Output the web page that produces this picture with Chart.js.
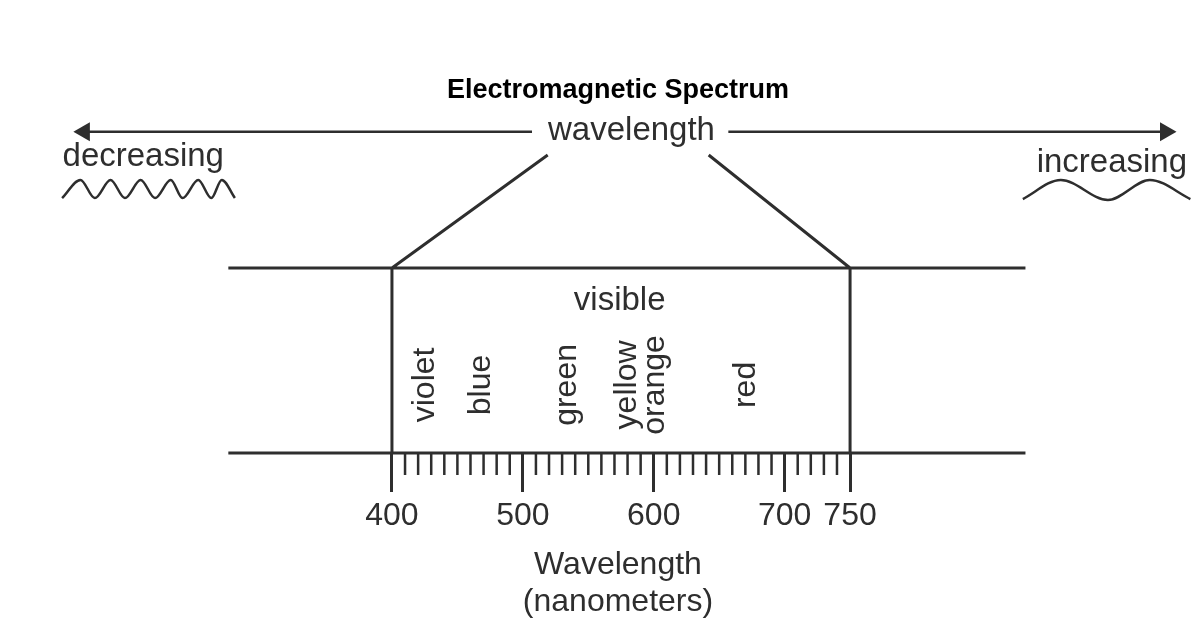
<!DOCTYPE html>
<html>
<head>
<meta charset="utf-8">
<script src="https://cdn.jsdelivr.net/npm/chart.js@4.4.1/dist/chart.umd.min.js"></script>
<style>
  html, body { margin: 0; padding: 0; background: #fff; }
  #wrap { width: 1204px; height: 630px; }
</style>
</head>
<body>
<div id="wrap"><canvas id="spectrum"></canvas></div>
<script>
// wavelength values (nm)
const visibleRange = [400, 750];
const bandRange = [275, 884];
const majorTicks = [400, 500, 600, 700, 750];
const minorTicks = [410, 420, 430, 440, 450, 460, 470, 480, 490,
                    510, 520, 530, 540, 550, 560, 570, 580, 590,
                    610, 620, 630, 640, 650, 660, 670, 680, 690,
                    710, 720, 730, 740];
const colorNames = ['violet', 'blue', 'green', 'yellow', 'orange', 'red'];
const colorCenters = [425, 468, 534, 580, 601, 671];

// top part of the diagram (same x units)
const funnelTop = [519, 642];
const arrowLeft = [165, 507];
const arrowRight = [657, 991];
const shortWaveX = [148, 162, 173, 185, 196, 208, 219, 231, 240, 252, 262, 270, 280];
const shortWaveY = [13.78, 14.76, 13.78, 14.76, 13.78, 14.76, 13.78, 14.76, 13.78, 14.76, 13.78, 14.76, 13.78];
const longWaveX = [882, 911, 947, 979, 1010];
const longWaveY = [13.73, 14.76, 13.68, 14.76, 13.73];

const textLabels = ['wavelength', 'decreasing', 'increasing', 'visible'];
const textX = [583, 210, 950, 574];

// vertical rows of the diagram, in y units
const row = { bandBottom: 0, bandTop: 10, minorTick: -1.19, funnel: 16.11, arrow: 17.37,
              colorMid: 3.68, textBase: [16.92, 15.51, 15.19, 7.73] };

const FONT = '"Liberation Sans", Arial, Helvetica, sans-serif';
const INK = '#2e2e2e';

// helper: several straight segments in one dataset, split by gaps
function segments(list) {
  const pts = [];
  list.forEach(s => { pts.push({x: s[0], y: s[1]}, {x: s[2], y: s[3]}, {x: s[2], y: null}); });
  return pts;
}

const lineStyle = { showLine: true, borderColor: INK, borderWidth: 3, pointRadius: 0, clip: false, spanGaps: false };

const datasets = [
  Object.assign({ data: segments([
    [bandRange[0], row.bandTop, bandRange[1], row.bandTop],
    [bandRange[0], row.bandBottom, bandRange[1], row.bandBottom],
    [visibleRange[0], row.bandTop, visibleRange[0], row.bandBottom],
    [visibleRange[1], row.bandTop, visibleRange[1], row.bandBottom],
    [visibleRange[0], row.bandTop, funnelTop[0], row.funnel],
    [visibleRange[1], row.bandTop, funnelTop[1], row.funnel]
  ]) }, lineStyle),
  Object.assign({ data: segments(minorTicks.map(v => [v, row.bandBottom, v, row.minorTick])) }, lineStyle, { borderWidth: 2.5 }),
  Object.assign({}, lineStyle, {
    data: [{x: arrowLeft[0], y: row.arrow}, {x: arrowLeft[1], y: row.arrow}],
    borderWidth: 2.5, pointStyle: 'triangle', pointRadius: [11, 0], pointRotation: [-90, 0],
    pointBackgroundColor: INK, pointBorderColor: INK, pointBorderWidth: 0
  }),
  Object.assign({}, lineStyle, {
    data: [{x: arrowRight[0], y: row.arrow}, {x: arrowRight[1], y: row.arrow}],
    borderWidth: 2.5, pointStyle: 'triangle', pointRadius: [0, 11], pointRotation: [0, 90],
    pointBackgroundColor: INK, pointBorderColor: INK, pointBorderWidth: 0
  }),
  Object.assign({}, lineStyle, {
    data: shortWaveX.map((x, i) => ({x: x, y: shortWaveY[i]})),
    borderWidth: 2.5, cubicInterpolationMode: 'monotone'
  }),
  Object.assign({}, lineStyle, {
    data: longWaveX.map((x, i) => ({x: x, y: longWaveY[i]})),
    borderWidth: 2.5, cubicInterpolationMode: 'monotone'
  })
];

// writes the diagram words at scale positions
const wordsPlugin = {
  id: 'words',
  afterDatasetsDraw(chart) {
    const {ctx, scales: {x, y}} = chart;
    ctx.save();
    ctx.fillStyle = INK;
    ctx.font = '33px ' + FONT;
    ctx.textAlign = 'center';
    ctx.textBaseline = 'alphabetic';
    textLabels.forEach((t, i) => {
      ctx.fillText(t, x.getPixelForValue(textX[i]), y.getPixelForValue(row.textBase[i]));
    });
    ctx.font = '32px ' + FONT;
    ctx.textBaseline = 'middle';
    colorNames.forEach((t, i) => {
      ctx.save();
      ctx.translate(x.getPixelForValue(colorCenters[i]), y.getPixelForValue(row.colorMid));
      ctx.rotate(-Math.PI / 2);
      ctx.fillText(t, 0, 0);
      ctx.restore();
    });
    ctx.restore();
  }
};

new Chart(document.getElementById('spectrum').getContext('2d'), {
  type: 'scatter',
  data: { datasets: datasets },
  plugins: [wordsPlugin],
  options: {
    responsive: true,
    maintainAspectRatio: false,
    animation: false,
    layout: { autoPadding: false, padding: { left: 32, right: 0, top: 0, bottom: 6 } },
    plugins: {
      legend: { display: false },
      tooltip: { enabled: false },
      title: {
        display: true,
        text: 'Electromagnetic Spectrum',
        color: '#000',
        font: { family: FONT, size: 27, weight: 'bold' },
        padding: { top: 74, bottom: 4 }
      }
    },
    scales: {
      x: {
        type: 'linear',
        min: 125,
        max: 1020.4,
        border: { display: false },
        grid: { display: true, drawOnChartArea: false, drawTicks: true, tickLength: 39, tickWidth: 3, tickColor: INK },
        afterBuildTicks: s => { s.ticks = majorTicks.map(v => ({ value: v })); },
        ticks: { padding: 5, color: INK, autoSkip: false, maxRotation: 0, font: { family: FONT, size: 32 } },
        title: {
          display: true,
          text: ['Wavelength', '(nanometers)'],
          color: INK,
          font: { family: FONT, size: 32, lineHeight: 1.15 },
          padding: { top: 6.4, bottom: 3.6 }
        }
      },
      y: { display: false, min: 0, max: 18.52 }
    }
  }
});
</script>
</body>
</html>
